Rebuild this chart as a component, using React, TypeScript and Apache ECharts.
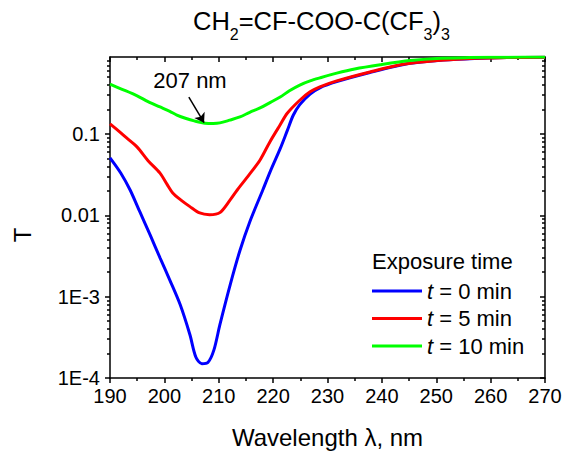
import React, { useEffect, useRef } from 'react';
import * as echarts from 'echarts';

const FONT = '"Liberation Sans", Arial, Helvetica, sans-serif';

const seriesNames = ['t = 0 min', 't = 5 min', 't = 10 min'];
const seriesColors = ['#0000ff', '#ff0000', '#00ff00'];

const blueWavelength = [190, 192, 193.7, 195.5, 197.4, 199.2, 201, 202.9, 204.7, 205.8, 206.9, 208, 209.1, 210.2, 212.1, 213.9, 215.7, 218.1, 219.5, 221.3, 222.6, 223.7, 224.9, 226.8, 228.6, 231.7, 237.8, 245.2, 251.2, 257, 263, 270];
const blueT = [0.051, 0.033, 0.0205, 0.011, 0.0057, 0.003, 0.0016, 0.0008, 0.00034, 0.00018, 0.00015, 0.000155, 0.00022, 0.00045, 0.0014, 0.0037, 0.0083, 0.0205, 0.035, 0.066, 0.11, 0.17, 0.23, 0.31, 0.37, 0.44, 0.57, 0.74, 0.81, 0.85, 0.87, 0.88];

const redWavelength = [190, 191.5, 193, 195, 197, 199.2, 200.5, 201.5, 203, 204.7, 206.5, 208.3, 210.2, 212.1, 213.4, 215.5, 217.6, 219.4, 221.3, 222.6, 224.9, 226.8, 228.6, 231.7, 237.8, 243.9, 250.1, 256.2, 263, 270];
const redT = [0.133, 0.11, 0.09, 0.069, 0.047, 0.033, 0.024, 0.019, 0.0155, 0.0128, 0.0107, 0.0102, 0.0108, 0.0155, 0.0205, 0.031, 0.048, 0.08, 0.13, 0.18, 0.26, 0.33, 0.38, 0.45, 0.58, 0.72, 0.8, 0.85, 0.87, 0.88];

const greenWavelength = [190, 192, 195, 197, 199.2, 201, 202.3, 204, 205.5, 207.5, 209, 210.2, 212, 213.9, 215.7, 217.6, 219.5, 221.3, 223, 224.9, 226.8, 228.6, 231.7, 235, 239.7, 245.2, 250.1, 256.2, 263, 270];
const greenT = [0.41, 0.36, 0.295, 0.25, 0.215, 0.19, 0.171, 0.155, 0.145, 0.136, 0.135, 0.137, 0.148, 0.162, 0.185, 0.209, 0.245, 0.285, 0.34, 0.4, 0.45, 0.49, 0.56, 0.63, 0.71, 0.8, 0.85, 0.87, 0.88, 0.885];

const yMin = 1e-4;
const yMax = 0.885;
const majorTicks = [1e-4, 1e-3, 1e-2, 1e-1];
const majorLabels = ['1E-4', '1E-3', '0.01', '0.1'];
const minorMultipliers = [2, 3, 4, 5, 6, 7, 8, 9];

const xMin = 190;
const xMax = 270;
const xStep = 10;

const annotationText = '207 nm';
const annotationFrom = [204.5, 0.285];
const annotationTo = [207.3, 0.138];

const minorTicks: number[] = [];
majorTicks.forEach((d) => minorMultipliers.forEach((m) => {
  const v = d * m;
  if (v <= yMax) minorTicks.push(v);
}));

const yFormatter = (v: number) => {
  const lg = Math.log10(v);
  const e = Math.round(lg);
  if (Math.abs(lg - e) > 1e-6) return '';
  const idx = majorTicks.findIndex((t) => Math.abs(Math.log10(t) - e) < 1e-6);
  return idx >= 0 ? majorLabels[idx] : '';
};

const lineStyleBlack = { color: '#000', width: 1.5 };

function makeY(position: 'left' | 'right', values: number[], len: number, inside: boolean, showLine: boolean, showLabel: boolean) {
  return {
    type: 'log',
    logBase: 10,
    min: yMin,
    max: yMax,
    position,
    axisLine: { show: showLine, onZero: false, lineStyle: lineStyleBlack },
    axisTick: { show: true, inside, length: len, customValues: values, lineStyle: lineStyleBlack },
    axisLabel: {
      show: showLabel,
      customValues: majorTicks,
      formatter: yFormatter,
      color: '#000',
      fontSize: 20,
      fontFamily: FONT,
      margin: 10,
    },
    splitLine: { show: false },
    minorTick: { show: false },
    minorSplitLine: { show: false },
  };
}

function makeX(position: 'top' | 'bottom', inside: boolean, showLabel: boolean) {
  return {
    type: 'value',
    min: xMin,
    max: xMax,
    interval: xStep,
    position,
    axisLine: { show: true, onZero: false, lineStyle: lineStyleBlack },
    axisTick: { show: true, inside, length: 5, lineStyle: lineStyleBlack },
    minorTick: { show: true, splitNumber: 2, length: 3, lineStyle: lineStyleBlack },
    axisLabel: {
      show: showLabel,
      showMinLabel: true,
      showMaxLabel: true,
      color: '#000',
      fontSize: 20,
      fontFamily: FONT,
      margin: 8,
    },
    splitLine: { show: false },
    minorSplitLine: { show: false },
    ...(showLabel
      ? {
          name: 'Wavelength λ, nm',
          nameLocation: 'middle',
          nameGap: 47,
          nameMoveOverlap: false,
          nameTextStyle: { fontSize: 24, color: '#000', fontFamily: FONT },
        }
      : {}),
  };
}

export default function App() {
  const ref = useRef<HTMLDivElement>(null);
  useEffect(() => {
    if (!ref.current) return;
    const chart = echarts.init(ref.current, undefined, { renderer: 'svg' });
    const datasets = [
      blueWavelength.map((x, i) => [x, blueT[i]]),
      redWavelength.map((x, i) => [x, redT[i]]),
      greenWavelength.map((x, i) => [x, greenT[i]]),
    ];
    const option: any = {
      animation: false,
      backgroundColor: '#ffffff',
      textStyle: { fontFamily: FONT },
      title: {
        text: '{a|CH}{s|2}{a|=CF-COO-C(CF}{s|3}{a|)}{s|3}',
        left: 193,
        top: 8,
        padding: 0,
        textStyle: {
          fontWeight: 'normal',
          rich: {
            a: { fontSize: 25.5, lineHeight: 26, verticalAlign: 'top', fontWeight: 'normal', color: '#000', fontFamily: FONT },
            s: { fontSize: 16, lineHeight: 16, verticalAlign: 'top', fontWeight: 'normal', padding: [18, 0, 0, 0], color: '#000', fontFamily: FONT },
          },
        },
      },
      grid: { left: 110, right: 25, top: 57, bottom: 77, containLabel: false, outerBoundsMode: 'none' },
      xAxis: [makeX('bottom', false, true), makeX('top', true, false)],
      yAxis: [
        makeY('left', majorTicks, 5, false, true, true),
        makeY('left', minorTicks, 3, false, false, false),
        makeY('right', majorTicks, 5, true, true, false),
        makeY('right', minorTicks, 3, true, false, false),
      ],
      legend: {
        orient: 'vertical',
        left: 372,
        top: 280,
        padding: 0,
        itemGap: 5.5,
        itemWidth: 50,
        itemHeight: 3,
        icon: 'rect',
        selectedMode: false,
        data: seriesNames,
        formatter: (name: string) => '{i|t}' + name.slice(1),
        textStyle: {
          fontSize: 22,
          lineHeight: 22,
          color: '#000',
          fontFamily: FONT,
          rich: { i: { fontStyle: 'italic', fontSize: 22, color: '#000', fontFamily: FONT } },
        },
      },
      graphic: [
        {
          type: 'text',
          x: 22,
          y: 235,
          rotation: Math.PI / 2,
          style: { text: 'T', font: `24px ${FONT}`, fill: '#000', align: 'center', verticalAlign: 'middle' },
        },
        {
          type: 'text',
          x: 372,
          y: 261,
          style: { text: 'Exposure time', font: `22px ${FONT}`, fill: '#000', align: 'left', verticalAlign: 'middle' },
        },
        {
          type: 'text',
          x: 190,
          y: 80,
          style: { text: annotationText, font: `22px ${FONT}`, fill: '#000', align: 'center', verticalAlign: 'middle' },
        },
      ],
      series: seriesNames.map((name, i) => ({
        name,
        type: 'line',
        xAxisIndex: 0,
        yAxisIndex: 0,
        data: datasets[i],
        showSymbol: false,
        symbol: 'none',
        smooth: 0.3,
        color: seriesColors[i],
        lineStyle: { color: seriesColors[i], width: 3 },
        emphasis: { disabled: true },
        ...(i === 2
          ? {
              markLine: {
                silent: true,
                symbol: ['none', 'arrow'],
                symbolSize: 9,
                label: { show: false },
                lineStyle: { color: '#000', width: 1.5, type: 'solid' },
                emphasis: { disabled: true },
                data: [[{ coord: annotationFrom }, { coord: annotationTo }]],
              },
            }
          : {}),
      })),
    };
    chart.setOption(option);
    return () => chart.dispose();
  }, []);
  return (
    <div
      ref={ref}
      style={{ position: 'fixed', left: 0, top: 0, width: 570, height: 455, background: '#fff' }}
    />
  );
}
